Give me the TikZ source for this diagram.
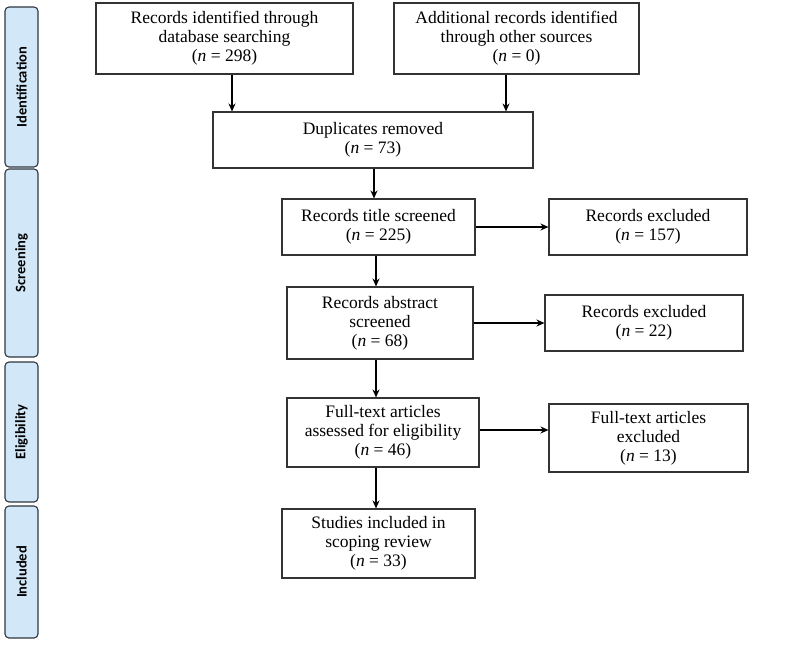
\documentclass[tikz,border=0pt]{standalone}
\usepackage{fontspec}
\setmainfont{Liberation Serif}
\newfontfamily\sidefont{Carlito}
\usetikzlibrary{arrows.meta,calc}
\definecolor{sidefill}{HTML}{D2E8F8}
\definecolor{sideline}{HTML}{2E3640}
\definecolor{boxline}{HTML}{333333}
\tikzset{
  flowbox/.style={draw=boxline,line width=1.1pt,align=center,inner sep=0pt,
    font=\fontsize{17.5}{18.8}\selectfont},
  sidebar/.style={draw=sideline,fill=sidefill,line width=1.1pt,rounded corners=4pt},
  sidelabel/.style={rotate=90,font=\sidefont\bfseries\fontsize{14.5}{16}\selectfont},
  arr/.style={-{Stealth[length=8pt,width=7pt]},line width=1.1pt,draw=black}
}
\newcommand{\nn}[1]{(\textit{n} = #1)}
\begin{document}
\begin{tikzpicture}[x=1pt,y=-1pt]
\useasboundingbox (0,0) rectangle (800,648);
% side bars
\draw[sidebar] (5,7) rectangle (38,167);
\node[sidelabel] (sid) at (21.5,87) {Identification};
\draw[sidebar] (5,169) rectangle (38,357);
\node[sidelabel] (sscr) at (21.5,263) {Screening};
\draw[sidebar] (5,362) rectangle (38,502);
\node[sidelabel] (selig) at (21.5,432) {Eligibility};
\draw[sidebar] (5,506) rectangle (38,638);
\node[sidelabel] (sinc) at (21.5,572) {Included};
% boxes
\node[flowbox,minimum width=257pt,minimum height=71pt] (b1) at (224.5,38.5)
  {Records identified through\\database searching\\\nn{298}};
\node[flowbox,minimum width=245pt,minimum height=71pt] (b2) at (516.5,38.5)
  {Additional records identified\\through other sources\\\nn{0}};
\node[flowbox,minimum width=320pt,minimum height=56pt] (dup) at (373,140)
  {Duplicates removed\\\nn{73}};
\node[flowbox,minimum width=193pt,minimum height=56pt] (ts) at (378.5,227)
  {Records title screened\\\nn{225}};
\node[flowbox,minimum width=198pt,minimum height=56pt] (ex1) at (648,227)
  {Records excluded\\\nn{157}};
\node[flowbox,minimum width=186pt,minimum height=72pt] (abs) at (380,323)
  {Records abstract\\screened\\\nn{68}};
\node[flowbox,minimum width=198pt,minimum height=56pt] (ex2) at (644,323)
  {Records excluded\\\nn{22}};
\node[flowbox,minimum width=192pt,minimum height=69pt] (ft) at (383,432.5)
  {Full-text articles\\assessed for eligibility\\\nn{46}};
\node[flowbox,minimum width=199pt,minimum height=68pt] (ex3) at (648.5,438)
  {Full-text articles\\excluded\\\nn{13}};
\node[flowbox,minimum width=193pt,minimum height=69pt] (inc) at (378.5,543.5)
  {Studies included in\\scoping review\\\nn{33}};
% connector x positions
\coordinate (xa) at (232,0);
\coordinate (xb) at (506,0);
\coordinate (xc) at (374,0);
\coordinate (xd) at (376,0);
\coordinate (yft) at (0,430);
% arrows
\draw[arr] (b1.south -| xa) -- (dup.north -| xa);
\draw[arr] (b2.south -| xb) -- (dup.north -| xb);
\draw[arr] (dup.south -| xc) -- (ts.north -| xc);
\draw[arr] (ts.south -| xd) -- (abs.north -| xd);
\draw[arr] (abs.south -| xd) -- (ft.north -| xd);
\draw[arr] (ft.south -| xd) -- (inc.north -| xd);
\draw[arr] (ts.east) -- (ex1.west);
\draw[arr] (abs.east) -- (ex2.west);
\draw[arr] (ft.east |- yft) -- (ex3.west |- yft);
\end{tikzpicture}
\end{document}
